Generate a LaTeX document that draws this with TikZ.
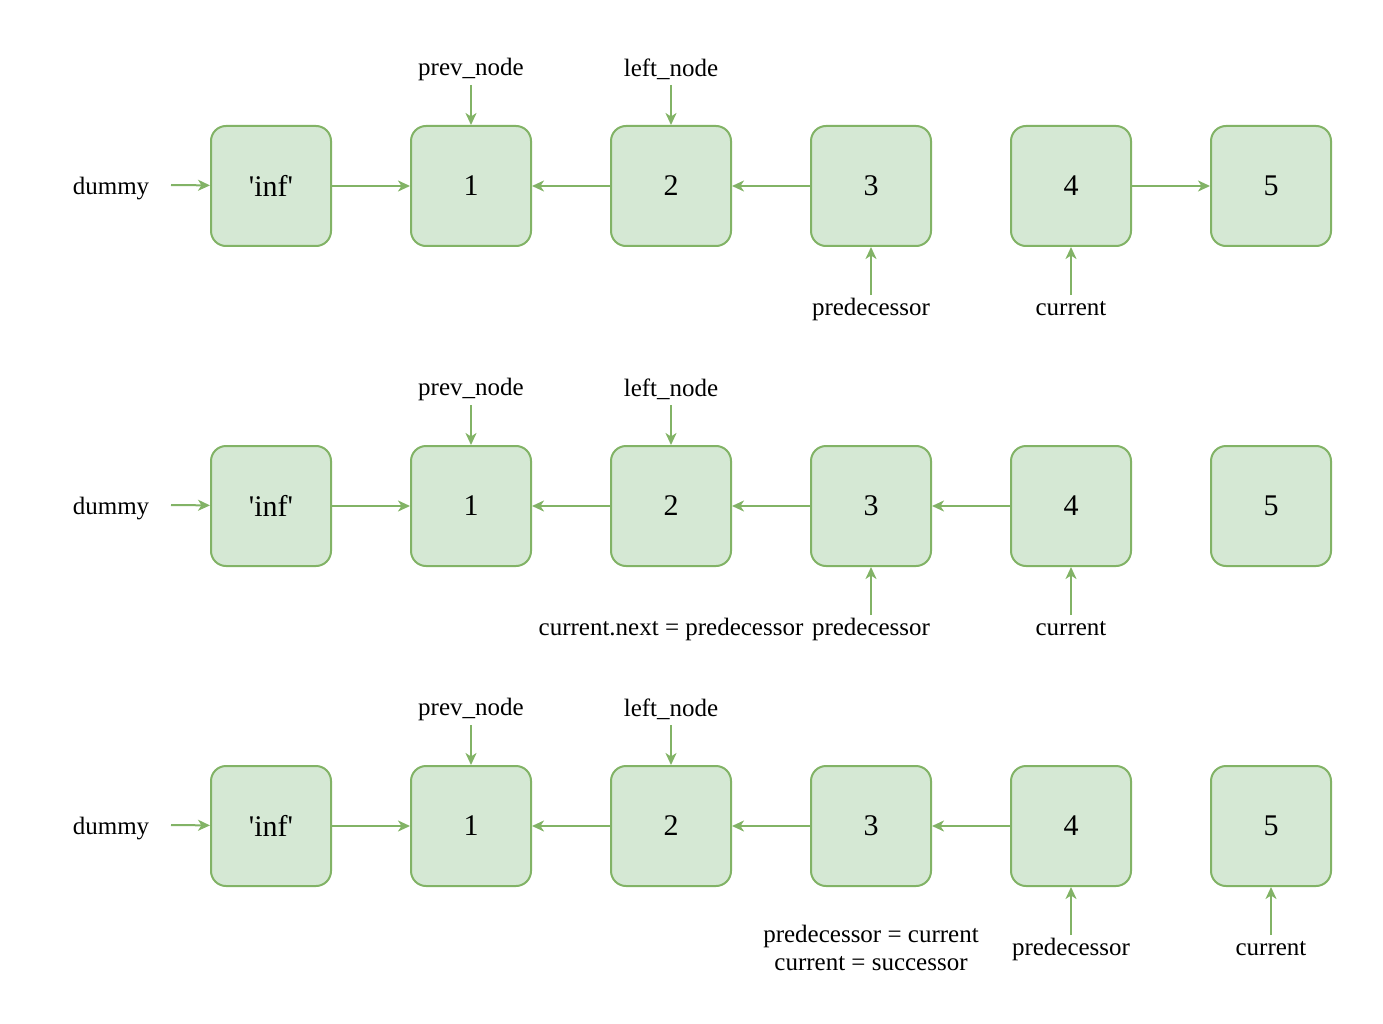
\documentclass[tikz,border=0pt]{standalone}
\usepackage{fontspec}
\setmainfont{Liberation Serif}
\usetikzlibrary{arrows.meta}
\definecolor{gfill}{HTML}{D5E8D4}
\definecolor{gline}{HTML}{82B366}
\tikzset{
  box/.style={draw=gline, fill=gfill, line width=2pt, rounded corners=15pt,
    minimum width=120pt, minimum height=120pt, inner sep=0pt,
    font=\fontsize{30}{33}\selectfont},
  lab/.style={inner sep=0pt, font=\fontsize{25}{28}\selectfont, align=center},
  conn/.style={draw=gline, line width=2pt, -{Stealth[length=12pt,width=11pt,inset=3.5pt]}},
}
\begin{document}
\begin{tikzpicture}[x=1pt,y=-1pt]
\useasboundingbox (0,0) rectangle (1383,1024);
% ---------- row 1 ----------
\node[lab] (d1) at (111,189) {dummy};
\coordinate (d1e) at (171,185);
\node[box] (a0) at (271,186) {\textquotesingle inf\textquotesingle};
\node[box] (a1) at (471,186) {1};
\node[box] (a2) at (671,186) {2};
\node[box] (a3) at (871,186) {3};
\node[box] (a4) at (1071,186) {4};
\node[box] (a5) at (1271,186) {5};
\draw[conn] (d1e) -- (a0);
\draw[conn] (a0) -- (a1);
\draw[conn] (a2) -- (a1);
\draw[conn] (a3) -- (a2);
\draw[conn] (a4) -- (a5);
\node[lab] (ap) at (471,69) {prev\_node};
\node[lab] (al) at (671,69) {left\_node};
\coordinate (apc) at (471,85);
\coordinate (alc) at (671,85);
\draw[conn] (apc) -- (a1.north);
\draw[conn] (alc) -- (a2.north);
\node[lab] (apr) at (871,309) {predecessor};
\node[lab] (acu) at (1071,309) {current};
\coordinate (aprc) at (871,295);
\coordinate (acuc) at (1071,295);
\draw[conn] (aprc) -- (a3.south);
\draw[conn] (acuc) -- (a4.south);
% ---------- row 2 ----------
\node[lab] (d2) at (111,509) {dummy};
\coordinate (d2e) at (171,505);
\node[box] (b0) at (271,506) {\textquotesingle inf\textquotesingle};
\node[box] (b1) at (471,506) {1};
\node[box] (b2) at (671,506) {2};
\node[box] (b3) at (871,506) {3};
\node[box] (b4) at (1071,506) {4};
\node[box] (b5) at (1271,506) {5};
\draw[conn] (d2e) -- (b0);
\draw[conn] (b0) -- (b1);
\draw[conn] (b2) -- (b1);
\draw[conn] (b3) -- (b2);
\draw[conn] (b4) -- (b3);
\node[lab] (bp) at (471,389) {prev\_node};
\node[lab] (bl) at (671,389) {left\_node};
\coordinate (bpc) at (471,405);
\coordinate (blc) at (671,405);
\draw[conn] (bpc) -- (b1.north);
\draw[conn] (blc) -- (b2.north);
\node[lab] (bnx) at (671,629) {current.next = predecessor};
\node[lab] (bpr) at (871,629) {predecessor};
\node[lab] (bcu) at (1071,629) {current};
\coordinate (bprc) at (871,615);
\coordinate (bcuc) at (1071,615);
\draw[conn] (bprc) -- (b3.south);
\draw[conn] (bcuc) -- (b4.south);
% ---------- row 3 ----------
\node[lab] (d3) at (111,829) {dummy};
\coordinate (d3e) at (171,825);
\node[box] (c0) at (271,826) {\textquotesingle inf\textquotesingle};
\node[box] (c1) at (471,826) {1};
\node[box] (c2) at (671,826) {2};
\node[box] (c3) at (871,826) {3};
\node[box] (c4) at (1071,826) {4};
\node[box] (c5) at (1271,826) {5};
\draw[conn] (d3e) -- (c0);
\draw[conn] (c0) -- (c1);
\draw[conn] (c2) -- (c1);
\draw[conn] (c3) -- (c2);
\draw[conn] (c4) -- (c3);
\node[lab] (cp) at (471,709) {prev\_node};
\node[lab] (cl) at (671,709) {left\_node};
\coordinate (cpc) at (471,725);
\coordinate (clc) at (671,725);
\draw[conn] (cpc) -- (c1.north);
\draw[conn] (clc) -- (c2.north);
\node[lab] (cas) at (871,948) {predecessor = current\\current = successor};
\node[lab] (cpr) at (1071,949) {predecessor};
\node[lab] (ccu) at (1271,949) {current};
\coordinate (cprc) at (1071,935);
\coordinate (ccuc) at (1271,935);
\draw[conn] (cprc) -- (c4.south);
\draw[conn] (ccuc) -- (c5.south);
\end{tikzpicture}
\end{document}
